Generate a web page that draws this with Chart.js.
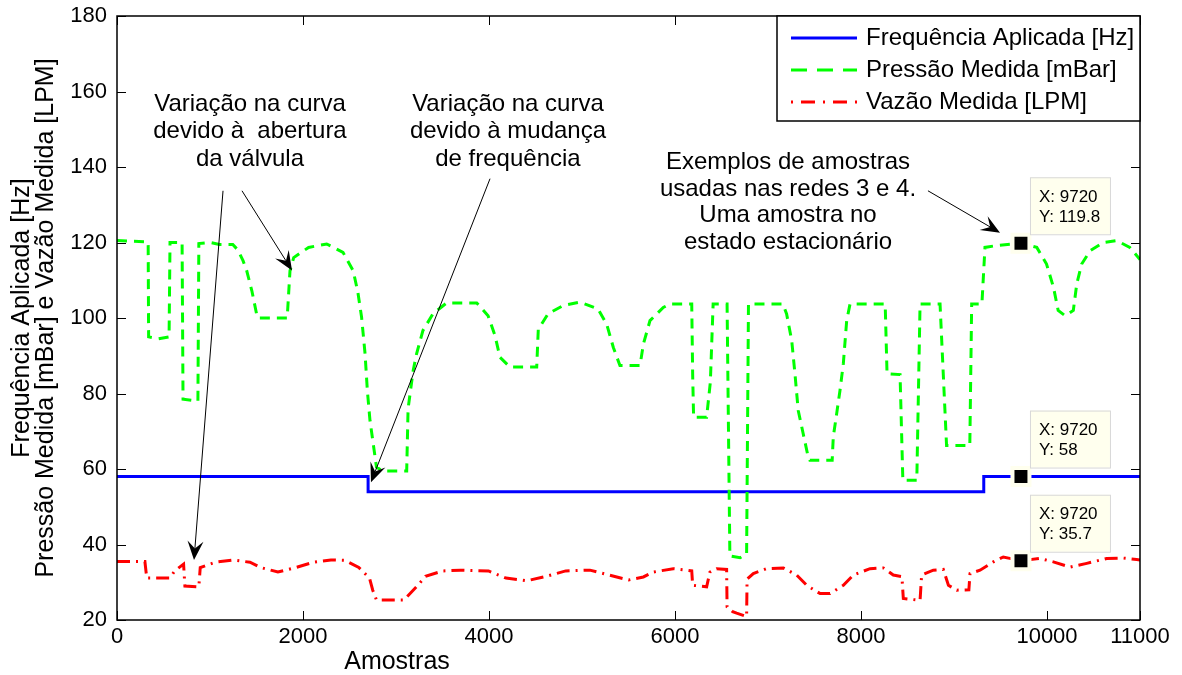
<!DOCTYPE html>
<html>
<head>
<meta charset="utf-8">
<script src="https://cdn.jsdelivr.net/npm/chart.js@4/dist/chart.umd.min.js"></script>
<style>
  html, body { margin: 0; padding: 0; background: #fff; }
  #wrap { width: 1182px; height: 675px; }
</style>
</head>
<body>
<div id="wrap"><canvas id="chart" width="1182" height="675"></canvas></div>
<script>
// Frequencia aplicada [Hz]
const freqX = [0, 2700, 2700, 9320, 9320, 11000];
const freqY = [58, 58, 54, 54, 58, 58];

// Pressao medida [mBar]
const pressX = [0, 320, 335, 340, 445, 560, 570, 700, 710, 870, 880, 1000, 1100, 1245, 1300, 1355, 1395, 1450, 1500, 1515,
  1830, 1860, 1900, 2060, 2255, 2430, 2540, 2590, 2630, 2667, 2692, 2720, 2750, 2790, 2850, 3115, 3130, 3185, 3222, 3290,
  3400, 3545, 3868, 3990, 4065, 4118, 4225, 4513, 4530, 4635, 4797, 4980, 5172, 5265, 5337, 5408, 5624, 5660, 5731, 5874,
  5946, 6180, 6190, 6200, 6340, 6380, 6410, 6560, 6590, 6700, 6770, 6790, 7160, 7200, 7255, 7290, 7325, 7378, 7432, 7450,
  7690, 7702, 7738, 7774, 7810, 7846, 7882, 8260, 8280, 8420, 8450, 8600, 8635, 8850, 8920, 9170, 9190, 9300, 9333, 9460,
  9720, 9890, 9995, 10070, 10120, 10195, 10283, 10320, 10373, 10463, 10606, 10750, 10890, 11000];
const pressY = [120.5, 120.2, 120, 95, 94.5, 95, 120, 120, 78.5, 78, 119.7, 120, 119.5, 119.5, 118, 115.2, 112.5, 107.2, 101.2, 100,
  100, 112.5, 116, 118.7, 119.6, 117.4, 112.5, 106.8, 100.2, 90.6, 80.8, 72.9, 67.6, 60.5, 59.5, 59.5, 76, 86.1, 90.6, 96.7,
  101.2, 104, 104, 100.6, 95.3, 89.6, 87, 87, 97, 101.1, 103.3, 104.2, 102.4, 98.4, 92.2, 87.4, 87.4, 93.1, 99.3, 102.8,
  103.7, 103.7, 85, 73.7, 73.7, 83, 103.7, 103.7, 37, 36.5, 37.5, 103.7, 103.7, 101.1, 94, 85.2, 75.5, 69.4, 63.2, 62.3,
  62.3, 68.5, 74.6, 80.8, 87.9, 99.3, 103.7, 103.7, 85.2, 85, 57, 57, 103.7, 103.7, 66.2, 66.2, 103.7, 103.7, 118.7, 119.2,
  119.8, 118.7, 114.3, 108.1, 102, 100.6, 102, 109, 114.3, 117.8, 120, 120.5, 118.7, 115.5];

// Vazao medida [LPM]
const flowX = [0, 300, 320, 570, 620, 716, 730, 880, 895, 1055, 1245, 1430, 1545, 1730, 1922, 2110, 2300, 2450, 2600, 2715,
  2750, 2790, 3085, 3240, 3317, 3505, 3693, 3995, 4183, 4408, 4635, 4825, 5085, 5276, 5502, 5660, 5766, 5981, 6090, 6180,
  6190, 6340, 6376, 6448, 6555, 6560, 6620, 6663, 6770, 6775, 6842, 6985, 7165, 7308, 7416, 7560, 7667, 7810, 7917, 8097,
  8240, 8347, 8440, 8455, 8635, 8652, 8777, 8885, 8940, 9030, 9160, 9172, 9280, 9423, 9530, 9720, 9925, 10068, 10248, 10427,
  10642, 10820, 10964, 11000];
const flowY = [35.5, 35.5, 31.1, 31.1, 33, 34.8, 29, 28.8, 33.9, 35.3, 35.9, 35.3, 33.9, 32.7, 33.9, 35.3, 35.9, 35.8, 33.9, 31.1,
  27.9, 25.3, 25.3, 29.3, 31.6, 33, 33.2, 33, 31.1, 30.4, 31.7, 33, 33.2, 32, 30.6, 31.4, 32.7, 33.6, 33.3, 33,
  29.2, 28.8, 32.7, 33.6, 33.4, 23.5, 22.2, 21.8, 20.9, 30.8, 32.3, 33.6, 33.8, 31.9, 29.2, 27, 27, 29.2, 31.9, 33.6,
  33.8, 31.9, 31.5, 25.7, 25.2, 31.9, 33.2, 33.4, 29.2, 27.9, 28, 32.3, 33.2, 35.4, 36.7, 35.7, 36.3, 35.4, 34, 35,
  36.3, 36.4, 36, 35.9];

// pontos marcados (data tips)
const tipX = [9720, 9720, 9720];
const tipY = [119.8, 58, 35.7];

const xTicks = [0, 2000, 4000, 6000, 8000, 10000, 11000];
const yTicks = [20, 40, 60, 80, 100, 120, 140, 160, 180];

const seriesNames = ["Frequência Aplicada [Hz]", "Pressão Medida [mBar]", "Vazão Medida [LPM]"];
const seriesColors = ["#0000ff", "#00ff00", "#ff0000"];

const FONT = "'Liberation Sans', Arial, Helvetica, sans-serif";

function toPoints(xs, ys) {
    return xs.map((x, i) => ({ x: x, y: ys[i] }));
}

function drawArrow(ctx, x1, y1, x2, y2) {
    const ang = Math.atan2(y2 - y1, x2 - x1);
    const len = 19, half = 8;
    ctx.beginPath();
    ctx.moveTo(x1, y1);
    ctx.lineTo(x2 - Math.cos(ang) * len * 0.6, y2 - Math.sin(ang) * len * 0.6);
    ctx.stroke();
    ctx.save();
    ctx.translate(x2, y2);
    ctx.rotate(ang);
    ctx.beginPath();
    ctx.moveTo(0, 0);
    ctx.lineTo(-len, -half);
    ctx.lineTo(-len * 0.6, 0);
    ctx.lineTo(-len, half);
    ctx.closePath();
    ctx.fill();
    ctx.restore();
}

const decor = {
    id: "decor",
    afterDraw(chart) {
        const ctx = chart.ctx;
        const area = chart.chartArea;
        const xs = chart.scales.x, ys = chart.scales.y;
        ctx.save();

        // caixa e ticks para dentro
        ctx.strokeStyle = "#000";
        ctx.lineWidth = 1;
        xTicks.forEach(v => {
            const p = Math.round(xs.getPixelForValue(v)) + 0.5;
            ctx.beginPath();
            ctx.moveTo(p, area.bottom); ctx.lineTo(p, area.bottom - 9);
            ctx.moveTo(p, area.top); ctx.lineTo(p, area.top + 9);
            ctx.stroke();
        });
        yTicks.forEach(v => {
            const p = Math.round(ys.getPixelForValue(v)) + 0.5;
            ctx.beginPath();
            ctx.moveTo(area.left, p); ctx.lineTo(area.left + 9, p);
            ctx.moveTo(area.right, p); ctx.lineTo(area.right - 9, p);
            ctx.stroke();
        });
        ctx.lineWidth = 1.5;
        ctx.strokeRect(area.left, area.top, area.right - area.left, area.bottom - area.top);

        // titulos dos eixos
        ctx.fillStyle = "#000";
        ctx.textAlign = "center";
        ctx.textBaseline = "middle";
        ctx.font = "25px " + FONT;
        ctx.fillText("Amostras", 397, 662);
        const cy = (area.top + area.bottom) / 2;
        ctx.save();
        ctx.translate(22, cy);
        ctx.rotate(-Math.PI / 2);
        ctx.fillText("Frequência Aplicada [Hz]", 0, 0);
        ctx.restore();
        ctx.save();
        ctx.translate(46, cy);
        ctx.rotate(-Math.PI / 2);
        ctx.fillText("Pressão Medida [mBar] e Vazão Medida [LPM]", 0, 0);
        ctx.restore();

        // anotacoes
        ctx.font = "24px " + FONT;
        const notes = [
            { x: 1430, y: 156.7, step: 27.5, lines: ["Variação na curva", "devido à  abertura", "da válvula"] },
            { x: 4204, y: 156.7, step: 27.5, lines: ["Variação na curva", "devido à mudança", "de frequência"] },
            { x: 7215, y: 141.1, step: 26.5, lines: ["Exemplos de amostras", "usadas nas redes 3 e 4.", "Uma amostra no", "estado estacionário"] }
        ];
        notes.forEach(n => {
            const px = xs.getPixelForValue(n.x);
            const py = ys.getPixelForValue(n.y);
            n.lines.forEach((t, i) => ctx.fillText(t, px, py + i * n.step));
        });

        const arrows = [
            [1344, 133.7, 1882, 112.6],
            [1140, 133.7, 828, 35.9],
            [4011, 136.9, 2731, 56.5],
            [8720, 133.7, 9495, 122.6]
        ];
        ctx.lineWidth = 1;
        arrows.forEach(a => {
            drawArrow(ctx, xs.getPixelForValue(a[0]), ys.getPixelForValue(a[1]),
                xs.getPixelForValue(a[2]), ys.getPixelForValue(a[3]));
        });

        // legenda
        const lx = area.right - 363, ly = area.top, lw = 363, lh = 105;
        ctx.fillStyle = "#fff";
        ctx.fillRect(lx, ly, lw, lh);
        ctx.strokeStyle = "#000";
        ctx.lineWidth = 1.5;
        ctx.strokeRect(lx, ly, lw, lh);
        const dashes = [[], [16, 10], [2, 8, 14, 8]];
        seriesNames.forEach((name, i) => {
            const ry = ly + 22 + i * 32;
            ctx.strokeStyle = seriesColors[i];
            ctx.lineWidth = 3;
            ctx.setLineDash(dashes[i]);
            ctx.beginPath();
            ctx.moveTo(lx + 14, ry); ctx.lineTo(lx + 80, ry);
            ctx.stroke();
            ctx.setLineDash([]);
            ctx.fillStyle = "#000";
            ctx.textAlign = "left";
            ctx.fillText(name, lx + 89, ry);
        });

        // caixas dos data tips
        ctx.font = "17px " + FONT;
        tipX.forEach((x, i) => {
            const px = xs.getPixelForValue(x);
            const py = ys.getPixelForValue(tipY[i]);
            const bx = px + 9, by = py - 66;
            ctx.fillStyle = "#ffffee";
            ctx.fillRect(bx, by, 80, 57);
            ctx.strokeStyle = "#d8d8d8";
            ctx.lineWidth = 1;
            ctx.strokeRect(bx + 0.5, by + 0.5, 80, 57);
            ctx.fillStyle = "#000";
            ctx.textAlign = "left";
            ctx.fillText("X: " + x, bx + 9, by + 20);
            ctx.fillText("Y: " + tipY[i], bx + 9, by + 40);
        });
        ctx.restore();
    }
};

const ctx = document.getElementById("chart").getContext("2d");
new Chart(ctx, {
    type: "line",
    data: {
        datasets: [
            {
                label: seriesNames[0],
                data: toPoints(freqX, freqY),
                borderColor: seriesColors[0],
                borderWidth: 3,
                pointRadius: 0,
                tension: 0,
                order: 3
            },
            {
                label: seriesNames[1],
                data: toPoints(pressX, pressY),
                borderColor: seriesColors[1],
                borderWidth: 3,
                borderDash: [10, 7],
                pointRadius: 0,
                tension: 0,
                order: 2
            },
            {
                label: seriesNames[2],
                data: toPoints(flowX, flowY),
                borderColor: seriesColors[2],
                borderWidth: 3,
                borderDash: [13, 6, 2, 6],
                pointRadius: 0,
                tension: 0,
                order: 1
            },
            {
                label: "tips",
                data: toPoints(tipX, tipY),
                showLine: false,
                pointStyle: "rect",
                pointRadius: 12,
                pointBackgroundColor: "#000",
                pointBorderColor: "#ffffee",
                pointBorderWidth: 4,
                order: 0
            }
        ]
    },
    options: {
        responsive: false,
        animation: false,
        layout: { padding: { top: 15, right: 42, left: 0, bottom: 0 } },
        plugins: {
            legend: { display: false },
            tooltip: { enabled: false }
        },
        scales: {
            x: {
                type: "linear",
                min: 0,
                max: 11000,
                afterBuildTicks: scale => { scale.ticks = xTicks.map(v => ({ value: v })); },
                afterFit: scale => { scale.height = 55; scale.paddingLeft = 0; scale.paddingRight = 0; },
                grid: { display: false, tickLength: 0 },
                border: { display: false },
                ticks: {
                    autoSkip: false,
                    maxRotation: 0,
                    padding: 4,
                    color: "#000",
                    font: { family: FONT, size: 22 },
                    callback: v => String(v)
                }
            },
            y: {
                min: 20,
                max: 180,
                afterBuildTicks: scale => { scale.ticks = yTicks.map(v => ({ value: v })); },
                afterFit: scale => { scale.width = 117; scale.paddingTop = 0; scale.paddingBottom = 0; },
                grid: { display: false, tickLength: 0 },
                border: { display: false },
                ticks: {
                    autoSkip: false,
                    padding: 10,
                    color: "#000",
                    font: { family: FONT, size: 22 },
                    callback: v => String(v)
                }
            }
        }
    },
    plugins: [decor]
});
</script>
</body>
</html>
